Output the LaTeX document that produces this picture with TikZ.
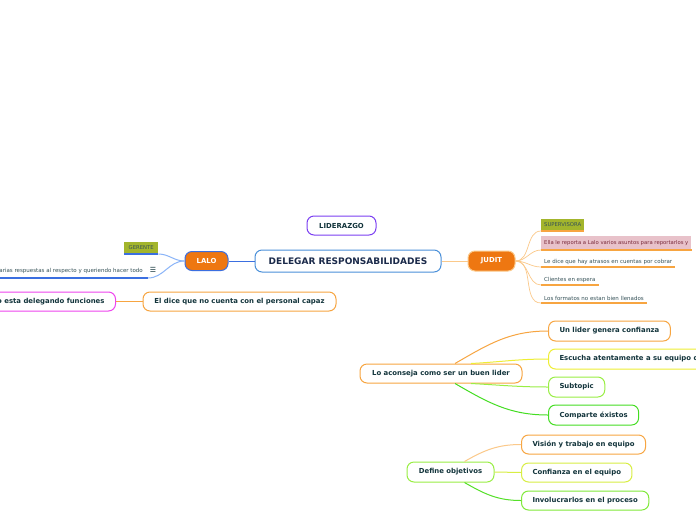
\documentclass[tikz,border=0pt]{standalone}
\usepackage{fontspec}
\setmainfont{DejaVu Sans}
\newfontfamily\symf{DejaVu Sans}
\definecolor{txt}{HTML}{12343B}
\definecolor{rootc}{HTML}{1B2A4A}
\definecolor{rootb}{HTML}{4A90D9}
\definecolor{purp}{HTML}{7B3FF2}
\definecolor{orf}{HTML}{EE7711}
\definecolor{lalob}{HTML}{3B6FE0}
\definecolor{orb}{HTML}{F7A541}
\definecolor{orl}{HTML}{FBC98A}
\definecolor{yel}{HTML}{EEEE33}
\definecolor{lgr}{HTML}{99EE44}
\definecolor{gre}{HTML}{44DD22}
\definecolor{ygr}{HTML}{D8EE44}
\definecolor{olive}{HTML}{A3B52C}
\definecolor{pinkf}{HTML}{E8C2CA}
\definecolor{pinkt}{HTML}{7A2A3A}
\definecolor{mag}{HTML}{EE44EE}
\definecolor{lblue}{HTML}{8AB4F8}
\tikzset{
  topic/.style={draw, line width=1pt, rounded corners=7pt, fill=white, minimum height=20pt,
    inner xsep=11pt, inner ysep=0pt, font=\bfseries\fontsize{6.9}{8}\selectfont, text=txt, anchor=west},
  small/.style={inner xsep=3pt, inner ysep=2pt, font=\fontsize{5.5}{6}\selectfont, text=txt!85!white, anchor=south west},
  tag/.style={small, minimum height=12pt, font=\fontsize{5.3}{6}\selectfont},
  link/.style={line width=1pt},
}
\begin{document}
\begin{tikzpicture}[x=1pt,y=-1pt]
\useasboundingbox (0,0) rectangle (696,520);
\clip (0,0) rectangle (696,520);
\fill[white] (0,0) rectangle (696,520);
% central
\node[topic, draw=rootb, text=rootc, font=\bfseries\fontsize{9}{10}\selectfont, minimum width=186pt, minimum height=22pt, anchor=center] (root) at (348,261) {DELEGAR RESPONSABILIDADES};
\node[topic, draw=purp, minimum width=69pt, minimum height=19pt, anchor=center] (lid) at (341.5,225.5) {LIDERAZGO};
\node[topic, draw=lalob, fill=orf, text=white, minimum width=43pt, minimum height=19pt, anchor=center, inner xsep=2pt] (lalo) at (206.5,261) {LALO};
\node[topic, draw=orl, fill=orf, text=white, minimum width=47pt, minimum height=20pt, anchor=center, inner xsep=2pt] (judit) at (491.5,261) {JUDIT};
\draw[link, lalob] (lalo) -- (root);
\draw[link, orl] (root) -- (judit);
% LALO children
\node[tag, fill=olive, minimum width=34pt, anchor=south west, inner xsep=2pt] (ger) at (124,254) {GERENTE};
\draw[line width=1.2pt, lalob] (ger.south west) -- (ger.south east);
\node[small, anchor=south east, inner xsep=0pt] (lt) at (143,275.5) {arias respuestas al respecto y queriendo hacer todo};
\node[font=\symf\fontsize{7}{8}\selectfont, text=txt, inner sep=0pt] (menu) at (153,269.5) {☰};
\coordinate (ltend) at (148,278);
\draw[line width=1.4pt, lalob] (lt.south west |- ltend) -- (ltend);
\draw[link, lblue] (lalo.west) to[out=180,in=0] (ger.south east);
\draw[link, lblue] (lalo.west) to[out=180,in=0] (ltend);
% El dice
\node[topic, draw=orb, minimum width=193pt, minimum height=19pt, anchor=center] (eld) at (239.5,301.5) {El dice que no cuenta con el personal capaz};
\node[topic, draw=mag, minimum height=19pt, anchor=east, inner xsep=11pt] (noe) at (116,301.5) {o esta delegando funciones};
\draw[link, orb] (eld) -- (noe);
% JUDIT children
\node[tag, fill=olive, anchor=south west] (sup) at (541,231) {SUPERVISORA};
\draw[line width=1.2pt, orb] (sup.south west) -- (sup.south east);
\node[tag, fill=pinkf, text=pinkt, anchor=south west, minimum height=14pt] (ella) at (541,250) {Ella le reporta a Lalo varios asuntos para reportarlos y};
\draw[line width=1.2pt, orb] (ella.south west) -- (ella.south east);
\node[small] (atr) at (541,267) {Le dice que hay atrasos en cuentas por cobrar};
\draw[line width=1.2pt, orb] (atr.south west) -- (atr.south east);
\node[small] (cli) at (541,285) {Clientes en espera};
\draw[line width=1.2pt, orb] (cli.south west) -- (cli.south east);
\node[small] (for) at (541,303) {Los formatos no estan bien llenados};
\draw[line width=1.2pt, orb] (for.south west) -- (for.south east);
\foreach \n in {sup,ella,atr,cli,for}
  \draw[line width=0.7pt, orl] (judit.east) to[out=0,in=180] (\n.south west);
% Lo aconseja
\node[topic, draw=orb, minimum width=162pt, minimum height=19pt, anchor=center] (la) at (441,373.5) {Lo aconseja como ser un buen lider};
\node[topic, draw=orb] (c1) at (548,331) {Un lider genera confianza};
\node[topic, draw=yel] (c2) at (548,359) {Escucha atentamente a su equipo d};
\node[topic, draw=lgr] (c3) at (548,387) {Subtopic};
\node[topic, draw=gre] (c4) at (548,415) {Comparte éxistos};
\draw[link, orb] ([xshift=14pt]la.north) to[out=30,in=180] (c1.west);
\draw[link, yel] ([xshift=30pt]la.north) to[out=3,in=180] (c2.west);
\draw[link, lgr] ([xshift=30pt]la.south) to[out=-3,in=180] (c3.west);
\draw[link, gre] ([xshift=14pt]la.south) to[out=-30,in=180] (c4.west);
% Define objetivos
\node[topic, draw=lgr, minimum width=87pt, anchor=center] (def) at (450.5,472) {Define objetivos};
\node[topic, draw=orb, minimum height=19pt] (d1) at (521,444.5) {Visión y trabajo en equipo};
\node[topic, draw=ygr, minimum height=19pt] (d2) at (521,472.5) {Confianza en el equipo};
\node[topic, draw=lgr!70!gre, minimum height=19pt] (d3) at (521,500.5) {Involucrarlos en el proceso};
\draw[link, orl] ([xshift=14pt]def.north) to[out=30,in=180] (d1.west);
\draw[link, ygr] (def.east) -- (d2.west);
\draw[link, gre!80!lgr] ([xshift=14pt]def.south) to[out=-30,in=180] (d3.west);
\end{tikzpicture}
\end{document}
